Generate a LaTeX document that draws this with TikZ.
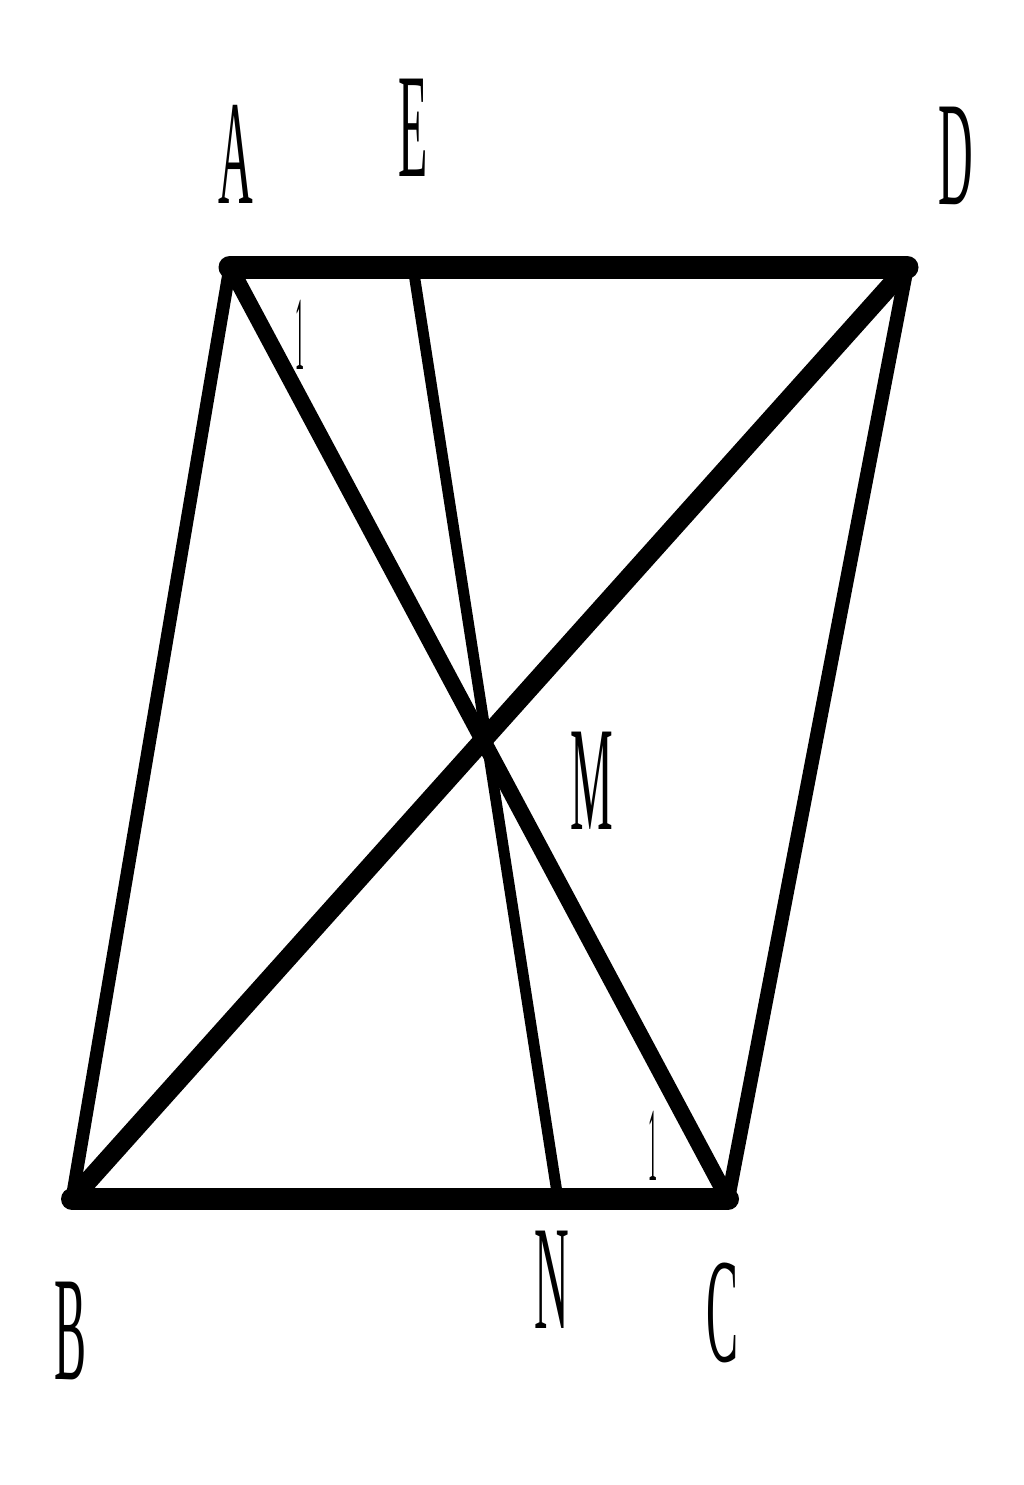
\documentclass[tikz,border=0pt]{standalone}
\usepackage{fontspec}
\usepackage{graphicx}
\setmainfont{Liberation Serif}
\tikzset{
  lbl/.style={inner sep=0pt, font=\fontsize{48}{50}\selectfont},
  tick/.style={inner sep=0pt, font=\fontsize{30}{32}\selectfont},
  edge/.style={line cap=round, line join=round}
}
\newcommand{\tallA}[1]{\scalebox{1}[3.1]{#1}}
\newcommand{\tallB}[1]{\scalebox{0.6}[3.5]{#1}}
\begin{document}
\begin{tikzpicture}[x=1pt,y=-1pt]
\useasboundingbox (0,0) rectangle (1024,1485);
\coordinate (A) at (230,267);
\coordinate (D) at (907,267);
\coordinate (B) at (72,1199);
\coordinate (C) at (728,1199);
\coordinate (E) at (413,267);
\coordinate (N) at (558,1199);
\coordinate (M) at (483,735);
% lines
\draw[edge, line width=13pt] (A) -- (B);
\draw[edge, line width=14pt] (D) -- (C);
\draw[edge, line width=16pt] (A) -- (C);
\draw[edge, line width=11pt] (E) -- (N);
\draw[edge, line width=19pt] (B) -- (D);
\draw[edge, line width=23pt] (A) -- (D);
\draw[edge, line width=22pt] (B) -- (C);
% labels
\node[lbl] (lA) at (236,154) {\tallA{A}};
\node[lbl] (lE) at (413,128) {\tallA{E}};
\node[lbl] (lD) at (956,156) {\tallA{D}};
\node[lbl] (lM) at (592,781) {\tallA{M}};
\node[lbl] (lB) at (71,1331) {\tallA{B}};
\node[lbl] (lN) at (552,1280) {\tallA{N}};
\node[lbl] (lC) at (722,1313) {\tallA{C}};
\node[tick] (t1) at (300,335) {\tallB{1}};
\node[tick] (t2) at (653,1146) {\tallB{1}};
\end{tikzpicture}
\end{document}
